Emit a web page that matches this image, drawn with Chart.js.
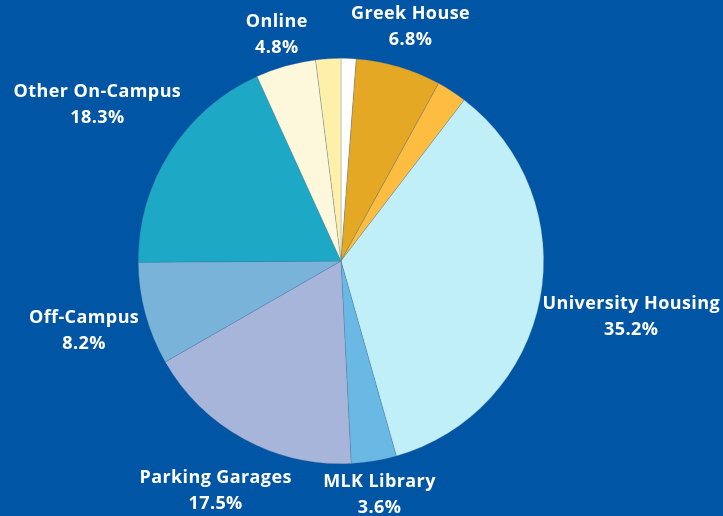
<!DOCTYPE html>
<html>
<head>
<meta charset="utf-8">
<script src="https://cdn.jsdelivr.net/npm/chart.js@4.4.1/dist/chart.umd.min.js"></script>
<style>
  html, body { margin: 0; padding: 0; background: #0055a4; }
  #wrap { width: 723px; height: 516px; }
</style>
</head>
<body>
<div id="wrap"><canvas id="pie"></canvas></div>
<script>
// slices run clockwise from 12 o'clock; '' = small unlabeled slice
const categories = ['', 'Greek House', '', 'University Housing', 'MLK Library', 'Parking Garages', 'Off-Campus', 'Other On-Campus', 'Online', ''];
const shares = [1.2, 6.8, 2.4, 35.2, 3.6, 17.5, 8.2, 18.3, 4.8, 2.0];
const sliceColors = ['#ffffff', '#e4a824', '#fdbd40', '#c1eff7', '#69b9e4', '#a8b5da', '#79b3da', '#1da8c6', '#fdf8dc', '#fef0a9'];

const labelFont = 'bold 18px "Open Sans", sans-serif';
const lineGap = 26;

// label box sits on the slice's mid-angle ray, just clear of the rim
const outsideLabels = {
    id: 'outsideLabels',
    afterDraw(chart) {
        const ctx = chart.ctx;
        const arcs = chart.getDatasetMeta(0).data;
        ctx.save();
        ctx.font = labelFont;
        ctx.letterSpacing = '0.4px';
        ctx.fillStyle = '#ffffff';
        ctx.textAlign = 'center';
        ctx.textBaseline = 'middle';
        arcs.forEach((arc, i) => {
            if (!categories[i]) return;
            const { x, y, startAngle, endAngle, outerRadius } = arc.getProps(['x', 'y', 'startAngle', 'endAngle', 'outerRadius'], true);
            const mid = (startAngle + endAngle) / 2;
            const dx = Math.cos(mid), dy = Math.sin(mid);
            const lines = [categories[i], shares[i].toFixed(1) + '%'];
            const w = Math.max(...lines.map(t => ctx.measureText(t).width));
            const h = lineGap + 14;
            const dist = outerRadius + 5 + Math.abs(dx) * w / 2 + Math.abs(dy) * h / 2;
            let cx = x + dx * dist;
            const cy = y + dy * dist;
            // keep the box on the canvas
            cx = Math.min(Math.max(cx, w / 2 + 3), chart.width - w / 2 - 3);
            ctx.fillText(lines[0], cx, cy - lineGap / 2);
            ctx.fillText(lines[1], cx, cy + lineGap / 2);
        });
        ctx.restore();
    }
};

new Chart(document.getElementById('pie').getContext('2d'), {
    type: 'pie',
    data: {
        labels: categories,
        datasets: [{
            data: shares,
            backgroundColor: sliceColors,
            borderColor: 'rgba(80,110,140,0.45)',
            borderWidth: 0.6
        }]
    },
    options: {
        responsive: true,
        maintainAspectRatio: false,
        animation: false,
        layout: { padding: { top: 58, bottom: 52, left: 100, right: 141 } },
        plugins: {
            legend: { display: false },
            tooltip: { enabled: false }
        }
    },
    plugins: [outsideLabels]
});
</script>
</body>
</html>
